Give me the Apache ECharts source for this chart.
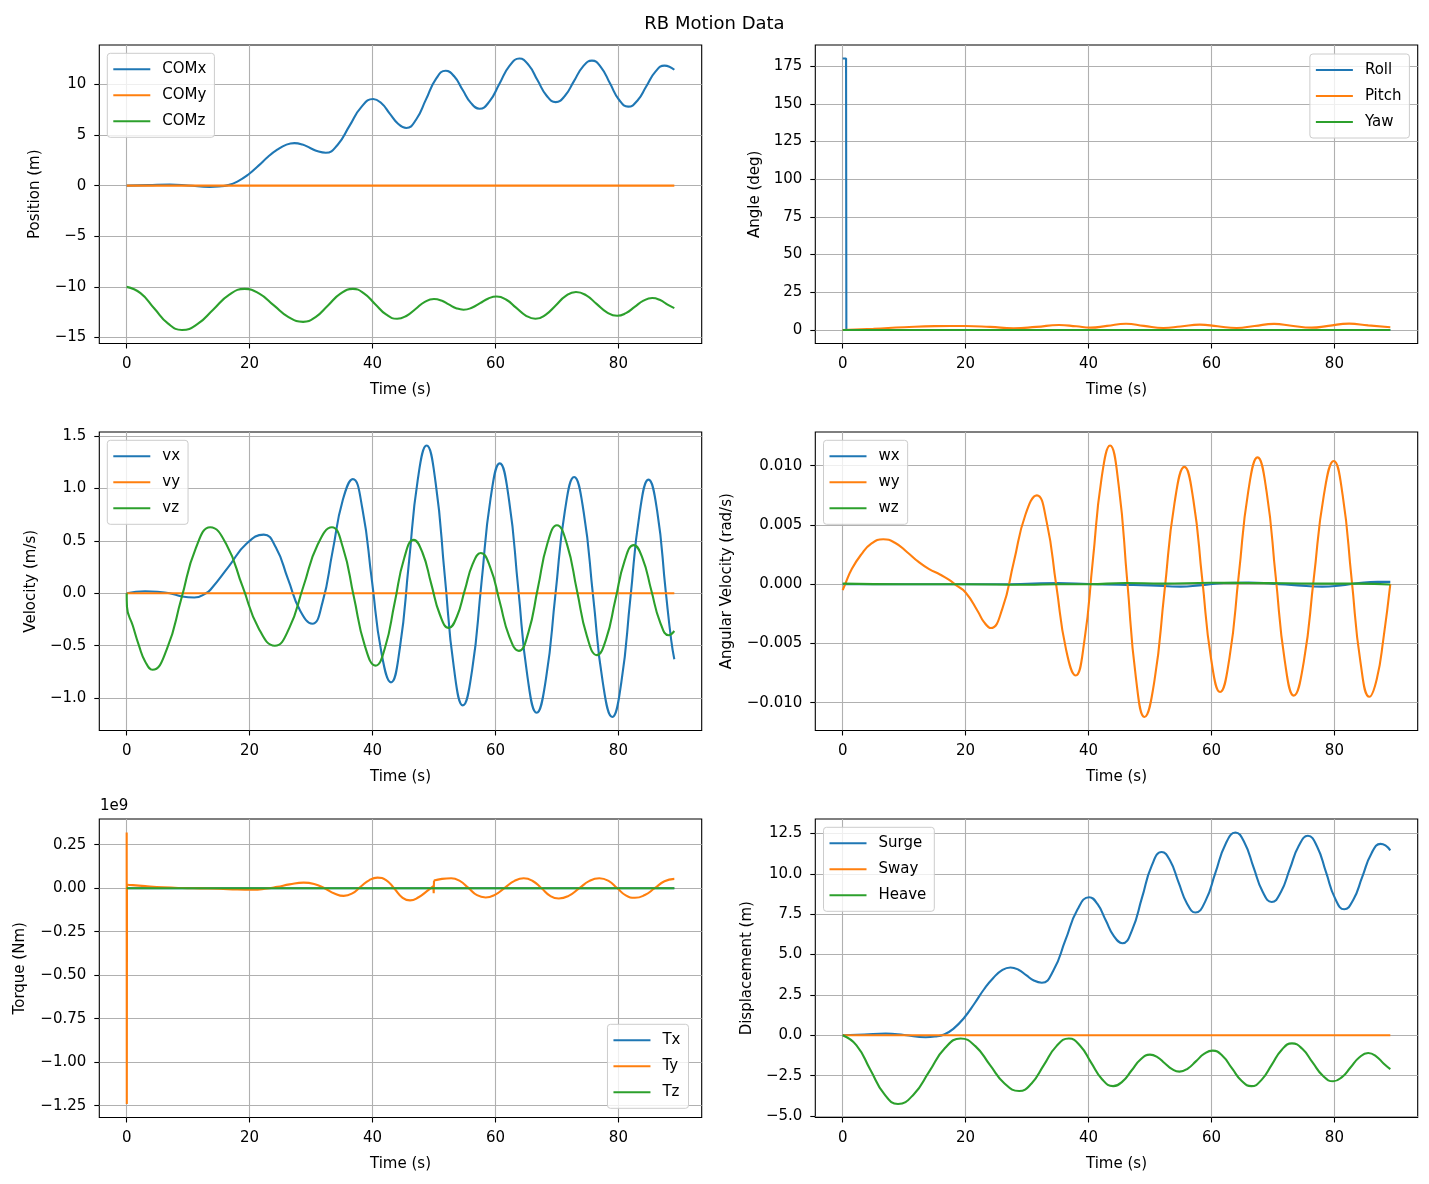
<!DOCTYPE html>
<html><head><meta charset="utf-8">
<script src="https://cdn.jsdelivr.net/npm/echarts@6/dist/echarts.min.js"></script>
<style>html,body{margin:0;padding:0;background:#fff}#c{width:1429px;height:1184px}</style>
</head><body><div id="c"></div>
<script>
// ---------- tick values ----------
const timeTicks = [0, 20, 40, 60, 80];
const posTicks = [-15, -10, -5, 0, 5, 10];
const angleTicks = [0, 25, 50, 75, 100, 125, 150, 175];
const velTicks = [-1.0, -0.5, 0.0, 0.5, 1.0, 1.5];
const angVelTicks = [-0.010, -0.005, 0.000, 0.005, 0.010];
const torqueTicks = [-1.25, -1.00, -0.75, -0.50, -0.25, 0.00, 0.25]; // x 1e9
const dispTicks = [-5.0, -2.5, 0.0, 2.5, 5.0, 7.5, 10.0, 12.5];

// ---------- series data [time (s), value] ----------
const comX = [[0,0],[3.5,0.05],[7,0.1],[10,0.02],[13.5,-0.12],[15,-0.08],[16.5,0.05],[18,0.4],[19.8,1.1],[21.5,2.0],[23,2.85],[24.5,3.55],[26,4.05],[27.3,4.2],[28.6,4.06],[29.85,3.72],[31.1,3.39],[32.4,3.25],[34.3,4.02],[36.25,5.9],[38.2,7.78],[40.1,8.55],[41.45,8.13],[42.8,7.12],[44.15,6.12],[45.5,5.7],[47.1,6.53],[48.7,8.52],[50.3,10.52],[51.9,11.35],[53.28,10.8],[54.65,9.47],[56.03,8.15],[57.4,7.6],[59.03,8.32],[60.65,10.07],[62.28,11.83],[63.9,12.55],[65.38,11.92],[66.85,10.4],[68.33,8.88],[69.8,8.25],[71.28,8.85],[72.75,10.3],[74.23,11.75],[75.7,12.35],[77.18,11.69],[78.65,10.08],[80.13,8.46],[81.6,7.8],[83.08,8.39],[84.55,9.82],[86.03,11.26],[87.5,11.85],[88.3,11.75],[89.1,11.45]];
const comY = [[0,0],[89.1,0]];
const comZ = [[0,-10.0],[2.25,-10.62],[4.5,-12.13],[6.75,-13.63],[9.0,-14.25],[11.55,-13.66],[14.1,-12.23],[16.65,-10.79],[19.2,-10.2],[21.58,-10.67],[23.95,-11.83],[26.33,-12.98],[28.7,-13.45],[30.73,-12.98],[32.75,-11.83],[34.78,-10.67],[36.8,-10.2],[38.6,-10.63],[40.4,-11.68],[42.2,-12.72],[44.0,-13.15],[45.5,-12.87],[47.0,-12.18],[48.5,-11.48],[50.0,-11.2],[51.2,-11.35],[52.4,-11.73],[53.6,-12.1],[54.8,-12.25],[56.15,-12.06],[57.5,-11.6],[58.85,-11.14],[60.2,-10.95],[61.78,-11.27],[63.35,-12.05],[64.93,-12.83],[66.5,-13.15],[68.15,-12.76],[69.8,-11.83],[71.45,-10.89],[73.1,-10.5],[74.78,-10.84],[76.45,-11.68],[78.13,-12.51],[79.8,-12.85],[81.23,-12.59],[82.65,-11.98],[84.08,-11.36],[85.5,-11.1],[86.8,-11.3],[88.0,-11.75],[89.1,-12.1]];

const roll = [[0,180],[0.55,180],[0.6,0],[89.1,0]];
const pitch = [[0,0],[5,0.8],[10,1.8],[15,2.5],[20,2.6],[24,2.0],[27.8,1.1],[31.5,2.0],[35.2,3.3],[38,2.4],[40.3,1.5],[43,2.7],[46.1,4.1],[49,2.7],[52.2,1.3],[55,2.3],[58.1,3.5],[61,2.4],[64.1,1.3],[67,2.6],[70.2,4.0],[73,2.8],[76.3,1.5],[79,2.7],[82.4,4.2],[85.5,3.0],[89.1,1.8]];
const yaw = [[0,0],[89.1,0]];

const vx = [[0,0],[1.5,0.015],[3,0.02],[5,0.015],[7,0.0],[9,-0.03],[11,-0.04],[12.9,0.0],[13.83,0.048],[16.65,0.26],[19.48,0.472],[22.3,0.56],[24.28,0.436],[26.25,0.135],[28.23,-0.166],[30.2,-0.29],[31.85,-0.089],[33.5,0.40],[35.15,0.888],[36.8,1.09],[38.35,0.807],[39.9,0.12],[41.45,-0.567],[43.0,-0.85],[44.45,-0.52],[45.9,0.28],[47.35,1.08],[48.8,1.41],[50.28,1.048],[51.75,0.17],[53.23,-0.708],[54.7,-1.07],[56.2,-0.733],[57.7,0.085],[59.2,0.903],[60.7,1.24],[62.2,0.893],[63.7,0.05],[65.2,-0.793],[66.7,-1.14],[68.23,-0.811],[69.75,-0.015],[71.28,0.781],[72.8,1.11],[74.35,0.776],[75.9,-0.035],[77.45,-0.846],[79.0,-1.18],[80.48,-0.849],[81.95,-0.048],[83.43,0.754],[84.9,1.085],[86.3,0.79],[87.7,0.02],[88.6,-0.45],[89.1,-0.63]];
const vy = [[0,0],[89.1,0]];
const vz = [[0,0],[0.05,-0.13],[1,-0.31],[2,-0.5],[3,-0.65],[4.2,-0.73],[6.55,-0.531],[8.9,-0.05],[11.25,0.431],[13.6,0.63],[16.23,0.465],[18.85,0.065],[21.48,-0.335],[24.1,-0.5],[26.43,-0.335],[28.75,0.065],[31.08,0.465],[33.4,0.63],[35.18,0.437],[36.95,-0.03],[38.73,-0.497],[40.5,-0.69],[42.05,-0.515],[43.6,-0.09],[45.15,0.335],[46.7,0.51],[48.13,0.387],[49.55,0.09],[50.98,-0.207],[52.4,-0.33],[53.7,-0.226],[55.0,0.028],[56.3,0.28],[57.6,0.385],[59.15,0.248],[60.7,-0.083],[62.25,-0.413],[63.8,-0.55],[65.35,-0.375],[66.9,0.05],[68.45,0.475],[70.0,0.65],[71.63,0.469],[73.25,0.03],[74.88,-0.409],[76.5,-0.59],[78.0,-0.437],[79.5,-0.065],[81.0,0.307],[82.5,0.46],[83.93,0.334],[85.35,0.03],[86.78,-0.274],[88.2,-0.40],[89.1,-0.36]];

const wx = [[0,0],[25,0],[30,0.00003],[35,0.0001],[40,0.00002],[45,-0.00005],[50,-0.0001],[55,-0.0002],[58,-0.0001],[62,0.0001],[66,0.00015],[70,0.00005],[74,-0.0001],[78,-0.0002],[81,-0.0001],[84,0.0001],[87,0.0002],[89.1,0.0002]];
const wy = [[0,-0.0005],[0.4,0.0],[1.5,0.0013],[3,0.0025],[4.6,0.0034],[6.6,0.0038],[8.5,0.0035],[10.5,0.0027],[12.3,0.0019],[14,0.0013],[15.9,0.0008],[17.2,0.0004],[18.5,-0.0001],[20,-0.0007],[22,-0.0023],[23,-0.0032],[24.1,-0.0037],[25.98,-0.00206],[27.85,0.0019],[29.73,0.00586],[31.6,0.0075],[33.18,0.00528],[34.75,-0.0001],[36.33,-0.00548],[37.9,-0.0077],[39.3,-0.00487],[40.7,0.002],[42.1,0.00887],[43.5,0.0117],[44.9,0.00836],[46.3,0.00025],[47.7,-0.00786],[49.1,-0.0112],[50.73,-0.00812],[52.35,-0.00065],[53.98,0.00682],[55.6,0.0099],[57.05,0.00713],[58.5,0.0004],[59.95,-0.00633],[61.4,-0.0091],[62.93,-0.00621],[64.45,0.0008],[65.98,0.00781],[67.5,0.0107],[68.98,0.00777],[70.45,0.00065],[71.93,-0.00647],[73.4,-0.0094],[75.03,-0.00651],[76.65,0.0005],[78.28,0.0075],[79.9,0.0104],[81.35,0.00749],[82.8,0.00045],[84.25,-0.0066],[85.7,-0.0095],[86.9,-0.008],[88.0,-0.0045],[89.1,0.0]];
const wz = [[0,0.00005],[10,0],[20,0],[30,-0.00005],[35,0],[40,0],[46,0.0001],[52,0.00005],[60,0.00012],[66,0.0001],[72,0.00008],[78,0.00005],[84,0.00005],[89.1,-0.00003]];

// torque values in units of 1e9 Nm
const tx = [[0,0],[89.1,0]];
const tySpike = [[0,0.32],[0.02,-1.24],[0.05,0.02]];
const tyA = [[0.05,0.02],[1,0.018],[3,0.012],[6,0.005],[9,0.001],[12,-0.001],[15,-0.003],[18,-0.007],[20.5,-0.008],[22.5,-0.003],[24.5,0.008],[26.5,0.022],[28.8,0.032],[30.5,0.024],[32.2,0.0],[33.8,-0.03],[35.3,-0.044],[36.7,-0.03],[38.1,0.01],[39.5,0.047],[40.8,0.061],[42.2,0.047],[43.5,0.0],[44.9,-0.055],[46.1,-0.07],[47.5,-0.052],[48.8,-0.018],[49.9,0.012]];
const tyGlitch = [[49.9,0.012],[49.95,-0.029],[50.0,0.044]];
const tyB = [[50.0,0.044],[51.3,0.054],[52.8,0.057],[54.2,0.042],[55.6,0.002],[57,-0.04],[58.4,-0.053],[59.9,-0.038],[61.5,0.002],[63.1,0.042],[64.6,0.057],[66.0,0.043],[67.5,0.0],[68.9,-0.044],[70.3,-0.059],[71.9,-0.044],[73.6,-0.001],[75.3,0.042],[76.9,0.057],[78.4,0.042],[79.8,0.001],[81.2,-0.041],[82.7,-0.055],[84.3,-0.039],[85.9,0.0],[87.5,0.04],[89.1,0.054]];
const tz = [[0,0],[89.1,0]];

const surge = comX;
const sway = [[0,0],[89.1,0]];
const heave = [[0,0.0],[2.25,-0.62],[4.5,-2.13],[6.75,-3.63],[9.0,-4.25],[11.55,-3.66],[14.1,-2.23],[16.65,-0.79],[19.2,-0.2],[21.58,-0.67],[23.95,-1.83],[26.33,-2.98],[28.7,-3.45],[30.73,-2.98],[32.75,-1.83],[34.78,-0.67],[36.8,-0.2],[38.6,-0.63],[40.4,-1.68],[42.2,-2.72],[44.0,-3.15],[45.5,-2.87],[47.0,-2.18],[48.5,-1.48],[50.0,-1.2],[51.2,-1.35],[52.4,-1.73],[53.6,-2.1],[54.8,-2.25],[56.15,-2.06],[57.5,-1.6],[58.85,-1.14],[60.2,-0.95],[61.78,-1.27],[63.35,-2.05],[64.93,-2.83],[66.5,-3.15],[68.15,-2.76],[69.8,-1.83],[71.45,-0.89],[73.1,-0.5],[74.78,-0.84],[76.45,-1.68],[78.13,-2.51],[79.8,-2.85],[81.23,-2.59],[82.65,-1.98],[84.08,-1.36],[85.5,-1.1],[86.8,-1.3],[88.0,-1.75],[89.1,-2.1]];

// ---------- styling ----------
const BLUE = '#1f77b4', ORANGE = '#ff7f0e', GREEN = '#2ca02c';
const FONT = 'DejaVu Sans';
const X_MIN = -4.455, X_MAX = 93.555;

function fmt(d) {
  return function (v) {
    const s = Math.abs(v).toFixed(d);
    return (v < 0 && Number(s) !== 0 ? '\u2212' : '') + s;
  };
}

const gridPos = [
  [99.3, 45], [815.3, 45],
  [99.3, 432], [815.3, 432],
  [99.3, 819], [815.3, 819]
];
const grids = gridPos.map(p => ({
  left: p[0], top: p[1], width: 602.4, height: 298.5,
  show: true, borderColor: '#000', borderWidth: 1.1, backgroundColor: '#fff', containLabel: false
}));

const axisText = { fontFamily: FONT, fontSize: 15, color: '#000' };

function xAxis(i) {
  return {
    type: 'value', gridIndex: i, min: X_MIN, max: X_MAX,
    name: 'Time (s)', nameLocation: 'middle', nameGap: 39, nameTextStyle: axisText,
    axisLine: { show: false, onZero: false },
    axisTick: { show: true, length: 5, lineStyle: { color: '#000', width: 1.1 }, customValues: timeTicks },
    axisLabel: Object.assign({ customValues: timeTicks, margin: 13, formatter: fmt(0) }, axisText),
    splitLine: { show: true, lineStyle: { color: '#b0b0b0', width: 1.1 } }
  };
}
function yAxis(i, name, min, max, ticks, dec, gap) {
  return {
    type: 'value', gridIndex: i, min: min, max: max,
    name: name, nameLocation: 'middle', nameGap: gap, nameTextStyle: axisText,
    axisLine: { show: false, onZero: false },
    axisTick: { show: true, length: 5, lineStyle: { color: '#000', width: 1.1 }, customValues: ticks },
    axisLabel: Object.assign({ customValues: ticks, margin: 13, formatter: fmt(dec) }, axisText),
    splitLine: { show: true, lineStyle: { color: '#b0b0b0', width: 1.1 } }
  };
}

function line(name, data, color, i, smooth) {
  return {
    type: 'line', name: name, data: data, xAxisIndex: i, yAxisIndex: i,
    color: color, symbol: 'none', showSymbol: false,
    smooth: smooth === undefined ? 0.5 : smooth,
    lineStyle: { width: 2.1, color: color }, silent: true, animation: false
  };
}

function legend(names, pos) {
  return Object.assign({
    orient: 'vertical', data: names, icon: 'rect', itemWidth: 37, itemHeight: 2, itemGap: 10,
    padding: [8, 8, 8, 6], backgroundColor: 'rgba(255,255,255,0.8)', borderColor: '#cccccc',
    borderWidth: 1, borderRadius: 3, selectedMode: false,
    textStyle: { fontFamily: FONT, fontSize: 15, color: '#000', lineHeight: 16, padding: [0, 0, 0, 7] }
  }, pos);
}

const option = {
  backgroundColor: '#fff',
  animation: false,
  title: { text: 'RB Motion Data', left: 'center', top: 10, textStyle: { fontFamily: FONT, fontSize: 18, fontWeight: 'normal', color: '#000' } },
  grid: grids,
  xAxis: [0, 1, 2, 3, 4, 5].map(xAxis),
  yAxis: [
    yAxis(0, 'Position (m)', -15.59, 13.89, posTicks, 0, 56.5),
    yAxis(1, 'Angle (deg)', -9, 189, angleTicks, 0, 53),
    yAxis(2, 'Velocity (m/s)', -1.3095, 1.5395, velTicks, 1, 61),
    yAxis(3, 'Angular Velocity (rad/s)', -0.012345, 0.012845, angVelTicks, 3, 80.5),
    yAxis(4, 'Torque (Nm)', -1.318, 0.398, torqueTicks, 2, 72),
    yAxis(5, 'Displacement (m)', -5.09, 13.39, dispTicks, 1, 61)
  ],
  legend: [
    legend(['COMx', 'COMy', 'COMz'], { left: 107.3, top: 53.3 }),
    legend(['Roll', 'Pitch', 'Yaw'], { right: 19.6, top: 54 }),
    legend(['vx', 'vy', 'vz'], { left: 107.3, top: 440.3 }),
    legend(['wx', 'wy', 'wz'], { left: 823.5, top: 440.3 }),
    legend(['Tx', 'Ty', 'Tz'], { right: 740.5, bottom: 75.7 }),
    legend(['Surge', 'Sway', 'Heave'], { left: 823.5, top: 827.3 })
  ],
  graphic: [{ type: 'text', left: 100, top: 799, style: { text: '1e9', font: '15px "DejaVu Sans"', fill: '#000' } }],
  series: [
    line('COMx', comX, BLUE, 0), line('COMy', comY, ORANGE, 0), line('COMz', comZ, GREEN, 0),
    line('Roll', roll, BLUE, 1, false), line('Pitch', pitch, ORANGE, 1), line('Yaw', yaw, GREEN, 1),
    line('vx', vx, BLUE, 2), line('vy', vy, ORANGE, 2), line('vz', vz, GREEN, 2),
    line('wx', wx, BLUE, 3), line('wy', wy, ORANGE, 3), line('wz', wz, GREEN, 3),
    line('Tx', tx, BLUE, 4),
    line('Ty', tySpike, ORANGE, 4, false), line('Ty', tyA, ORANGE, 4), line('Ty', tyGlitch, ORANGE, 4, false), line('Ty', tyB, ORANGE, 4),
    line('Tz', tz, GREEN, 4),
    line('Surge', surge, BLUE, 5), line('Sway', sway, ORANGE, 5), line('Heave', heave, GREEN, 5)
  ]
};

const chart = echarts.init(document.getElementById('c'), null, { renderer: 'canvas', width: 1429, height: 1184 });
chart.setOption(option);
</script></body></html>
